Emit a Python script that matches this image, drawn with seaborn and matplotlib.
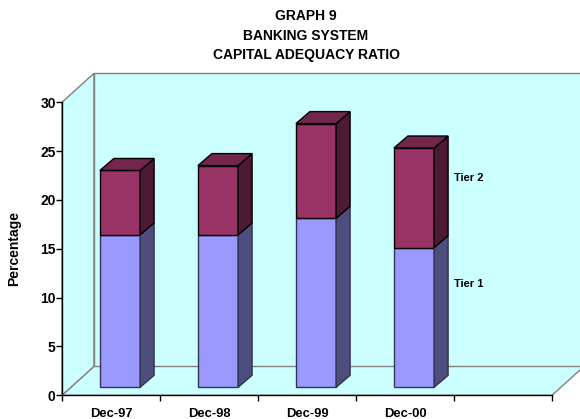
import matplotlib
matplotlib.use("Agg")
import matplotlib.pyplot as plt
import numpy as np
import pandas as pd
import seaborn as sns
from matplotlib.patches import Polygon
from matplotlib.transforms import Affine2D

# Capital adequacy ratio, percent, stacked by tier
periods = ["Dec-97", "Dec-98", "Dec-99", "Dec-00"]
tier1 = [15.6, 15.6, 17.3, 14.3]
tier2 = [6.6, 7.1, 9.7, 10.2]
axis_slots = periods + [" "]

title_lines = ["GRAPH 9", "BANKING SYSTEM", "CAPITAL ADEQUACY RATIO"]
y_ticks = [0, 5, 10, 15, 20, 25, 30]

WIDTH, HEIGHT = 580, 419
WALL_COL = "#CCFFFF"
GRID_COL = "#808080"
T1_FRONT, T1_SIDE = "#9999FF", "#4D4D80"
T2_FRONT, T2_SIDE, T2_TOP = "#993366", "#4D1A33", "#73264D"

sns.set_theme(style="white")
plt.rcParams["font.family"] = ["Liberation Sans", "DejaVu Sans"]
plt.rcParams["font.weight"] = "bold"

fig = plt.figure(figsize=(WIDTH / 100, HEIGHT / 100), dpi=100)
ax = fig.add_axes([62 / WIDTH, (HEIGHT - 395.3) / HEIGHT, 490 / WIDTH, 293 / HEIGHT])
ax.patch.set_visible(False)

df = pd.DataFrame({"period": periods, "tier1": tier1, "tier2": tier2})
sns.barplot(data=df, x="period", y="tier1", order=axis_slots, color=T1_FRONT,
            saturation=1, width=0.41, edgecolor="#33334D", linewidth=1.0, ax=ax)
n_lower = len(ax.patches)
sns.barplot(data=df, x="period", y="tier2", order=axis_slots, color=T2_FRONT,
            saturation=1, width=0.41, bottom=df["tier1"].to_numpy(),
            edgecolor="black", linewidth=1.0, ax=ax)
ax.set_xlim(-0.5, 4.5)
ax.set_ylim(0, 30)

# Pixel offsets that give the flat chart its box-like depth
wall_dx, wall_dy = 32, 29
bar_dx, bar_dy = 9, 8
depth_dx, depth_dy = 14, 12


def shifted(dx, dy):
    return ax.transData + Affine2D().translate(dx, dy)


def to_px(x, y):
    return ax.transData.transform((x, y))


x0, x1 = ax.get_xlim()
y0, y1 = ax.get_ylim()
p00, p10, p01 = to_px(x0, y0), to_px(x1, y0), to_px(x0, y1)
back = np.array([wall_dx, wall_dy])
walls = [
    [p00, p10, p10 + back, p00 + back],                          # floor
    [p00, p00 + back, p01 + back, p01],                          # left wall
    [p00 + back, p10 + back, p10 + back + (p01 - p00), p01 + back],  # back wall
]
for pts in walls:
    fig.add_artist(Polygon(np.array(pts), closed=True, transform=None, facecolor=WALL_COL,
                           edgecolor=GRID_COL, linewidth=1.0, zorder=-1))

bars = list(ax.patches)
upper = bars[n_lower:]
valid = [b for b in bars if np.isfinite(b.get_height()) and b.get_height() > 0]
ordered = sorted(valid, key=lambda b: (b.get_x(), b.get_y()))
for b in ordered:
    is_upper = any(b is u for u in upper)
    left, bottom = b.get_x(), b.get_y()
    right, top = left + b.get_width(), bottom + b.get_height()
    b.set_transform(shifted(bar_dx, bar_dy))
    b.set_zorder(3)
    b.set_clip_on(False)
    a = to_px(right, bottom) + (bar_dx, bar_dy)
    c = to_px(right, top) + (bar_dx, bar_dy)
    d = np.array([depth_dx, depth_dy])
    side = T2_SIDE if is_upper else T1_SIDE
    line = "black" if is_upper else "#33334D"
    ax.add_patch(Polygon([a, a + d, c + d, c], closed=True, transform=None,
                         facecolor=side, edgecolor=line, linewidth=1.0,
                         zorder=3, clip_on=False))
    if is_upper:
        e = to_px(left, top) + (bar_dx, bar_dy)
        ax.add_patch(Polygon([e, c, c + d, e + d], closed=True, transform=None,
                             facecolor=T2_TOP, edgecolor="black", linewidth=1.0,
                             zorder=3, clip_on=False))

# Axes, ticks and labels
for name in ("top", "right"):
    ax.spines[name].set_visible(False)
for name in ("left", "bottom"):
    ax.spines[name].set_visible(True)
    ax.spines[name].set_color("black")
    ax.spines[name].set_linewidth(1.0)

ax.set_yticks(y_ticks)
ax.set_xticks(range(len(axis_slots)))
ax.set_xticklabels(axis_slots)
ax.set_xticks(np.arange(x0, x1 + 0.01), minor=True)
ax.tick_params(axis="x", which="major", length=0, pad=9.5, labelsize=9.4)
ax.tick_params(axis="x", which="minor", length=4, width=1.0, color="black", bottom=True)
ax.tick_params(axis="y", which="major", length=4, width=1.0, color="black", left=True,
               pad=0.5, labelsize=10)
for lab in ax.get_xticklabels() + ax.get_yticklabels():
    lab.set_fontweight("bold")
    lab.set_color("black")

ax.set_xlabel("")
ax.set_ylabel("")
fig.text(14 / WIDTH, (HEIGHT - 249) / HEIGHT, "Percentage", rotation=90, ha="center",
         va="center", fontsize=10, fontweight="bold", color="black")

for text, ypx in zip(title_lines, [16, 36, 55]):
    fig.text(306 / WIDTH, (HEIGHT - ypx) / HEIGHT, text, ha="center", va="center",
             fontsize=10, fontweight="bold", color="black")

# Series names sit beside the last stack
last = len(periods) - 1
ax.text(last + 0.5, tier1[last] + tier2[last] - 2.2, "Tier 2", fontsize=8,
        fontweight="bold", color="black", va="center", ha="left")
ax.text(last + 0.5, tier1[last] - 2.9, "Tier 1", fontsize=8,
        fontweight="bold", color="black", va="center", ha="left")

fig.savefig("out.png", dpi=100, facecolor="white")
